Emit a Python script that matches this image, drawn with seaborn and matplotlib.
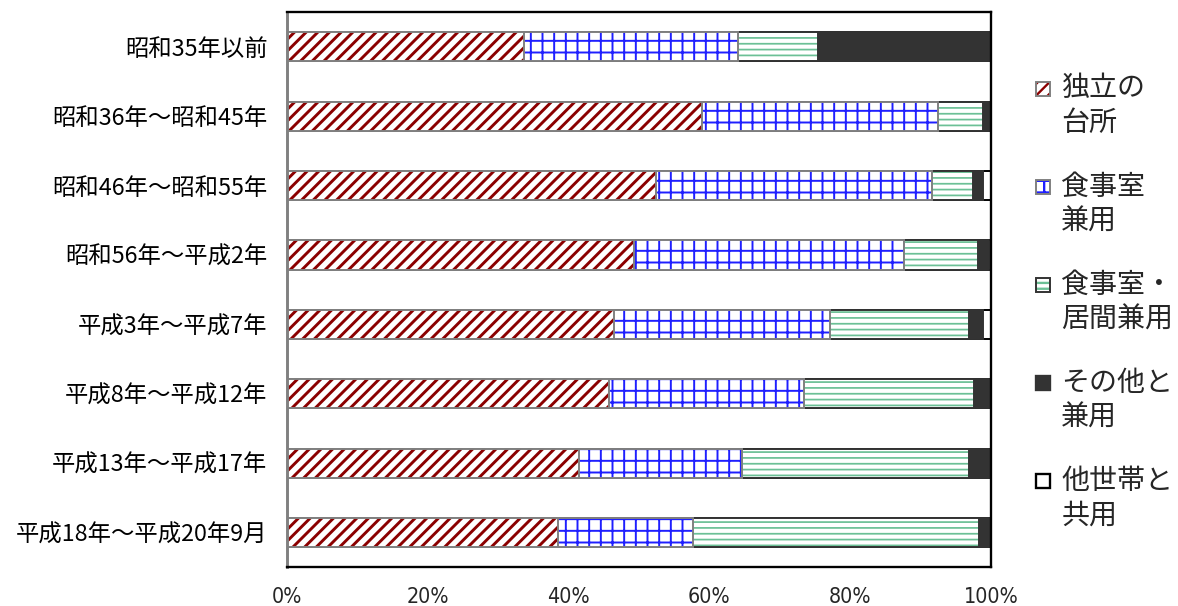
import numpy as np
import matplotlib
matplotlib.use("Agg")
import matplotlib.pyplot as plt
import matplotlib.patches as mpatches
from matplotlib.legend_handler import HandlerPatch
import seaborn as sns

# 建築時期
periods = ['昭和35年以前', '昭和36年～昭和45年', '昭和46年～昭和55年', '昭和56年～平成2年',
           '平成3年～平成7年', '平成8年～平成12年', '平成13年～平成17年', '平成18年～平成20年9月']
# 台所の型 (凡例)
series = ['独立の\n台所', '食事室\n兼用', '食事室・\n居間兼用', 'その他と\n兼用', '他世帯と\n共用']

# 割合 (%)
dokuritsu = [33.7, 58.9, 52.4, 49.3, 46.4, 45.8, 41.5, 38.5]
shokuji = [30.4, 33.5, 39.2, 38.4, 30.7, 27.7, 23.1, 19.2]
shokuji_ima = [11.3, 6.5, 5.8, 10.4, 19.8, 24.1, 32.2, 40.6]
sonota = [24.6, 1.1, 1.4, 1.6, 2.0, 2.4, 3.2, 1.7]
tasetai = [0.0, 0.0, 1.2, 0.3, 1.1, 0.0, 0.0, 0.0]

xticks = [0, 20, 40, 60, 80, 100]

sns.set_style("white")
plt.rcParams['font.family'] = ['Noto Sans CJK JP', 'DejaVu Sans']
plt.rcParams['hatch.linewidth'] = 1.2

# 系列ごとの見た目: (塗り, ハッチ, ハッチ色, 枠線色, ハッチ線幅)
styles = [
    ('white', '////', '#8b0000', '#808080', 1.5),
    ('white', '++', '#1f1fff', '#808080', 1.0),
    ('white', '----', '#6cc096', '#333333', 0.9),
    ('#333333', None, '#333333', '#333333', 1.0),
    ('white', None, 'black', 'black', 1.0),
]

values = np.array([dokuritsu, shokuji, shokuji_ima, sonota, tasetai])
cum = values.cumsum(axis=0)

fig, ax = plt.subplots(figsize=(1178 / 140, 606 / 140), dpi=140)
fig.subplots_adjust(left=0.2436, right=0.8413, top=0.980, bottom=0.064)

# 積み上げ: 外側(累積の大きい方)から順に重ねて描く
for k in range(len(series) - 1, -1, -1):
    face, hatch, hcol, ecol, hlw = styles[k]
    sns.barplot(x=cum[k], y=periods, order=periods, orient='h', color=face,
                saturation=1, width=0.42, errorbar=None, ax=ax)
    for p in ax.containers[-1]:
        p.set_facecolor(face)
        p.set_edgecolor(hcol)   # ハッチ色は edgecolor から決まる
        p.set_linewidth(0)
        p.set_hatch(hatch)
        if hasattr(p, 'set_hatch_linewidth'):
            p.set_hatch_linewidth(hlw)
    # 枠線だけもう一度
    sns.barplot(x=cum[k], y=periods, order=periods, orient='h', color=face,
                saturation=1, width=0.42, errorbar=None, ax=ax)
    for p in ax.containers[-1]:
        p.set_facecolor('none')
        p.set_edgecolor(ecol)
        p.set_linewidth(1.0)

ax.set_xlim(0, 100)
ax.set_xticks(xticks)
ax.set_xticklabels([f'{v}%' for v in xticks], fontsize=11, fontstretch='condensed',
                   family=['Liberation Sans Narrow', 'DejaVu Sans'])
ax.set_xlabel('')
ax.set_ylabel('')
ax.tick_params(axis='x', direction='in', length=4, width=0.8, color='black', pad=10)
ax.tick_params(axis='y', which='major', length=0, pad=10, labelsize=12, labelcolor='black')
ax.set_yticks(np.arange(-0.5, len(periods), 1), minor=True)
ax.tick_params(axis='y', which='minor', direction='in', length=3, width=0.8, color='#808080')

for side in ['top', 'right', 'bottom']:
    ax.spines[side].set_color('black')
    ax.spines[side].set_linewidth(1.2)
ax.spines['left'].set_color('#808080')
ax.spines['left'].set_linewidth(1.5)


# 凡例: 小さな四角を1行目の高さに置く
def top_square(legend, orig_handle, xdescent, ydescent, width, height, fontsize):
    side = 0.5 * fontsize
    return mpatches.Rectangle((-xdescent, height - ydescent - side + 0.12 * fontsize), side, side)


handles = []
for face, hatch, hcol, ecol, hlw in styles:
    if hatch:
        handles.append((mpatches.Patch(facecolor=face, edgecolor=hcol, lw=0, hatch=hatch),
                        mpatches.Patch(facecolor='none', edgecolor=ecol, lw=1.0)))
    else:
        handles.append(mpatches.Patch(facecolor=face, edgecolor=ecol, lw=1.2))

fig.legend(handles, series, loc='upper left', bbox_to_anchor=(0.8795, 0.879),
           frameon=False, fontsize=14.4, handlelength=0.5, handleheight=2.2,
           handletextpad=0.4, labelspacing=1.2, borderpad=0, borderaxespad=0,
           handler_map={mpatches.Patch: HandlerPatch(patch_func=top_square)})

fig.savefig('out.png', dpi=140, facecolor='white')
